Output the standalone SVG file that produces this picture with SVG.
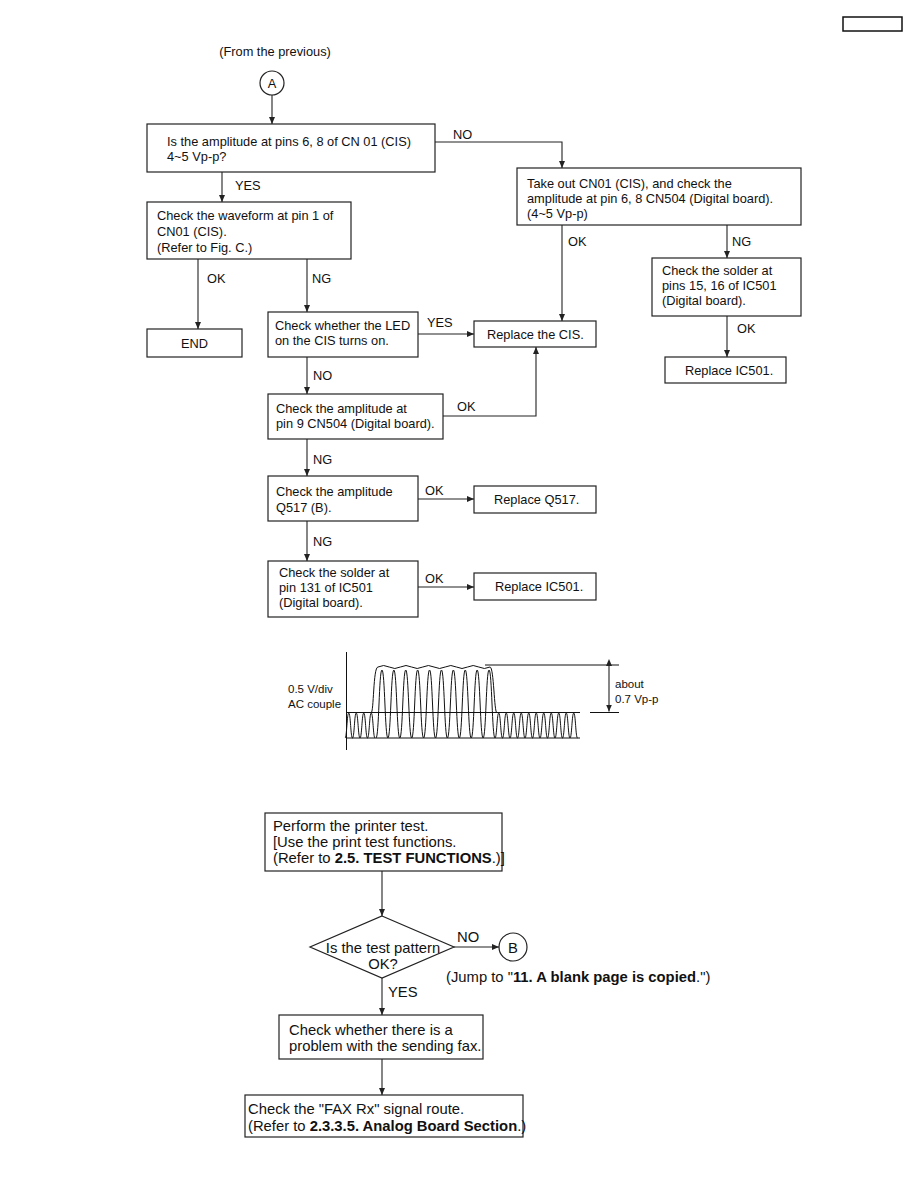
<svg xmlns="http://www.w3.org/2000/svg" width="918" height="1188" viewBox="0 0 918 1188">
<style>
.bx{fill:#fff;stroke:#222;stroke-width:1.2}
.t{font-family:"Liberation Sans",Arial,sans-serif;font-size:12.8px;fill:#111}
.tb{font-family:"Liberation Sans",Arial,sans-serif;font-size:14.8px;fill:#111}
.ts{font-family:"Liberation Sans",Arial,sans-serif;font-size:11.5px;fill:#111}
.c{fill:none;stroke:#222;stroke-width:1.1}
.w{fill:none;stroke:#111;stroke-width:1}
.b{font-weight:bold}
</style>
<defs>
<marker id="ah" markerUnits="userSpaceOnUse" markerWidth="7" markerHeight="6" refX="7" refY="3" orient="auto">
<path d="M0,0 L7,3 L0,6 z" fill="#222"/>
</marker>
<marker id="ahs" markerUnits="userSpaceOnUse" markerWidth="7" markerHeight="6" refX="0" refY="3" orient="auto-start-reverse">
<path d="M0,0 L7,3 L0,6 z" fill="#222"/>
</marker>
</defs>
<rect x="843" y="17" width="59" height="14" fill="none" stroke="#111" stroke-width="1.5"/>
<text class="t" x="275" y="56" text-anchor="middle">(From the previous)</text>

<g id="connectors">
<path class="c" d="M272 95 V124" marker-end="url(#ah)"/>
<path class="c" d="M222 172 V202" marker-end="url(#ah)"/>
<path class="c" d="M435 142 H562 V168" marker-end="url(#ah)"/>
<path class="c" d="M198 259 V329" marker-end="url(#ah)"/>
<path class="c" d="M307 259 V312" marker-end="url(#ah)"/>
<path class="c" d="M418 334 H474" marker-end="url(#ah)"/>
<path class="c" d="M562 225 V321" marker-end="url(#ah)"/>
<path class="c" d="M727 225 V258" marker-end="url(#ah)"/>
<path class="c" d="M727 316 V357" marker-end="url(#ah)"/>
<path class="c" d="M307 357 V394" marker-end="url(#ah)"/>
<path class="c" d="M443 416 H536 V347" marker-end="url(#ah)"/>
<path class="c" d="M307 439 V476" marker-end="url(#ah)"/>
<path class="c" d="M418 499 H474" marker-end="url(#ah)"/>
<path class="c" d="M307 521 V561" marker-end="url(#ah)"/>
<path class="c" d="M418 587 H474" marker-end="url(#ah)"/>
<path class="c" d="M382 871 V916" marker-end="url(#ah)"/>
<path class="c" d="M454 947 H499" marker-end="url(#ah)"/>
<path class="c" d="M382 978 V1015" marker-end="url(#ah)"/>
<path class="c" d="M382 1059 V1095" marker-end="url(#ah)"/>
<text class="t" x="453" y="139">NO</text>
<text class="t" x="235" y="190">YES</text>
<text class="t" x="207" y="283">OK</text>
<text class="t" x="312" y="283">NG</text>
<text class="t" x="427" y="327">YES</text>
<text class="t" x="568" y="246">OK</text>
<text class="t" x="732" y="246">NG</text>
<text class="t" x="737" y="333">OK</text>
<text class="t" x="313" y="380">NO</text>
<text class="t" x="457" y="411">OK</text>
<text class="t" x="313" y="464">NG</text>
<text class="t" x="425" y="495">OK</text>
<text class="t" x="313" y="546">NG</text>
<text class="t" x="425" y="583">OK</text>
<text class="tb" x="457" y="942">NO</text>
<text class="tb" x="388" y="997">YES</text>
</g>

<g id="nodeA">
<circle cx="272" cy="83" r="12" fill="#fff" stroke="#222" stroke-width="1.2"/>
<text class="t" x="272" y="87.5" text-anchor="middle">A</text>
</g>
<g id="q1">
<rect class="bx" x="147" y="124" width="288" height="48"/>
<text class="t" x="167" y="145.5">Is the amplitude at pins 6, 8 of CN 01 (CIS)</text>
<text class="t" x="167" y="161">4~5 Vp-p?</text>
</g>
<g id="waveform-check">
<rect class="bx" x="147" y="202" width="204" height="57"/>
<text class="t" x="157" y="220">Check the waveform at pin 1 of</text>
<text class="t" x="157" y="236">CN01 (CIS).</text>
<text class="t" x="157" y="251.5">(Refer to Fig. C.)</text>
</g>
<g id="end">
<rect class="bx" x="147" y="329" width="95" height="28"/>
<text class="t" x="194.5" y="347.5" text-anchor="middle">END</text>
</g>
<g id="led">
<rect class="bx" x="268" y="312" width="150" height="45"/>
<text class="t" x="275" y="330">Check whether the LED</text>
<text class="t" x="275" y="345">on the CIS turns on.</text>
</g>
<g id="takeout">
<rect class="bx" x="517" y="168" width="284" height="57"/>
<text class="t" x="527" y="187.5">Take out CN01 (CIS), and check the</text>
<text class="t" x="527" y="202.5">amplitude at pin 6, 8 CN504 (Digital board).</text>
<text class="t" x="527" y="217.5">(4~5 Vp-p)</text>
</g>
<g id="solder1516">
<rect class="bx" x="652" y="258" width="149" height="58"/>
<text class="t" x="662" y="275">Check the solder at</text>
<text class="t" x="662" y="290">pins 15, 16 of IC501</text>
<text class="t" x="662" y="305">(Digital board).</text>
</g>
<g id="replace-cis">
<rect class="bx" x="474" y="321" width="122" height="26"/>
<text class="t" x="487" y="338.5">Replace the CIS.</text>
</g>
<g id="replace-ic501-a">
<rect class="bx" x="665" y="357" width="121" height="26"/>
<text class="t" x="685" y="374.5">Replace IC501.</text>
</g>
<g id="pin9">
<rect class="bx" x="268" y="394" width="175" height="45"/>
<text class="t" x="276" y="413">Check the amplitude at</text>
<text class="t" x="276" y="428">pin 9 CN504 (Digital board).</text>
</g>
<g id="q517">
<rect class="bx" x="268" y="476" width="150" height="45"/>
<text class="t" x="276" y="496">Check the amplitude</text>
<text class="t" x="276" y="511.5">Q517 (B).</text>
</g>
<g id="replace-q517">
<rect class="bx" x="474" y="486" width="122" height="27"/>
<text class="t" x="494" y="503.5">Replace Q517.</text>
</g>
<g id="solder131">
<rect class="bx" x="268" y="561" width="150" height="56"/>
<text class="t" x="279" y="576.5">Check the solder at</text>
<text class="t" x="279" y="592">pin 131 of IC501</text>
<text class="t" x="279" y="606.5">(Digital board).</text>
</g>
<g id="replace-ic501-b">
<rect class="bx" x="474" y="573" width="122" height="27"/>
<text class="t" x="495" y="591">Replace IC501.</text>
</g>

<g id="figC">
<path class="w" d="M346.5 652 V750"/>
<path class="w" d="M347 738 H580"/>
<path class="w" d="M347 712.5 H580 M590 712.5 H619"/>
<path class="w" d="M485 665 H619"/>
<path class="c" d="M609 666 V711.5" marker-start="url(#ahs)" marker-end="url(#ah)"/>
<path class="w" d="M345 738 c 1.9 0 1.9 -25 3.75 -25 s 1.9 25 3.75 25 s 1.9 -25 3.75 -25 s 1.9 25 3.75 25 s 1.9 -25 3.75 -25 s 1.9 25 3.75 25 s 1.9 -25 3.75 -25 s 1.9 25 3.75 25"/>
<path class="w" d="M495 738 c 1.9 0 1.9 -25 3.75 -25 s 1.9 25 3.75 25 s 1.9 -25 3.75 -25 s 1.9 25 3.75 25 s 1.9 -25 3.75 -25 s 1.9 25 3.75 25 s 1.9 -25 3.75 -25 s 1.9 25 3.75 25 s 1.9 -25 3.75 -25 s 1.9 25 3.75 25 s 1.9 -25 3.75 -25 s 1.9 25 3.75 25 s 1.9 -25 3.75 -25 s 1.9 25 3.75 25 s 1.9 -25 3.75 -25 s 1.9 25 3.75 25 s 1.9 -25 3.75 -25 s 1.9 25 3.75 25 s 1.9 -25 3.75 -25 s 1.9 25 3.75 25 s 1.9 -25 3.75 -25 s 1.9 25 3.75 25"/>
<path class="w" d="M376 738 c 3 0 3 -68 5.95 -68 s 3 68 5.95 68 s 3 -68 5.95 -68 s 3 68 5.95 68 s 3 -68 5.95 -68 s 3 68 5.95 68 s 3 -68 5.95 -68 s 3 68 5.95 68 s 3 -68 5.95 -68 s 3 68 5.95 68 s 3 -68 5.95 -68 s 3 68 5.95 68 s 3 -68 5.95 -68 s 3 68 5.95 68 s 3 -68 5.95 -68 s 3 68 5.95 68 s 3 -68 5.95 -68 s 3 68 5.95 68 s 3 -68 5.95 -68 s 3 68 5.95 68"/>
<path class="w" d="M371 713 C 374 713 373 667 378 667 q 5.6 -3 11.2 0 t 11.2 0 t 11.2 0 t 11.2 0 t 11.2 0 t 11.2 0 t 11.2 0 t 11.2 0 t 11.2 0 t 11.2 0 C 494 667 494 713 497 713"/>
<text class="ts" x="288" y="693">0.5 V/div</text>
<text class="ts" x="288" y="708">AC couple</text>
<text class="ts" x="615" y="688">about</text>
<text class="ts" x="615" y="703">0.7 Vp-p</text>
</g>

<g id="printer-test">
<rect class="bx" x="265" y="813" width="237" height="58"/>
<text class="tb" x="273" y="830.5">Perform the printer test.</text>
<text class="tb" x="273" y="846.5">[Use the print test functions.</text>
<text class="tb" x="273" y="862.5">(Refer to <tspan class="b">2.5. TEST FUNCTIONS</tspan>.)]</text>
</g>
<g id="pattern-ok">
<polygon class="bx" points="382,916 454,947 382,978 310,947"/>
<text class="tb" x="383" y="952.5" text-anchor="middle">Is the test pattern</text>
<text class="tb" x="383" y="968.5" text-anchor="middle">OK?</text>
</g>
<g id="nodeB">
<circle cx="513" cy="947" r="14" fill="#fff" stroke="#222" stroke-width="1.2"/>
<text class="tb" x="513" y="952.5" text-anchor="middle">B</text>
<text class="tb" x="446" y="982">(Jump to "<tspan class="b">11. A blank page is copied</tspan>.")</text>
</g>
<g id="sending-fax">
<rect class="bx" x="279" y="1015" width="204" height="44"/>
<text class="tb" x="289" y="1034.5">Check whether there is a</text>
<text class="tb" x="289" y="1050.5">problem with the sending fax.</text>
</g>
<g id="fax-rx">
<rect class="bx" x="245" y="1095" width="278" height="42"/>
<text class="tb" x="248" y="1114">Check the "FAX Rx" signal route.</text>
<text class="tb" x="248" y="1131">(Refer to <tspan class="b">2.3.3.5. Analog Board Section</tspan>.)</text>
</g>
</svg>
